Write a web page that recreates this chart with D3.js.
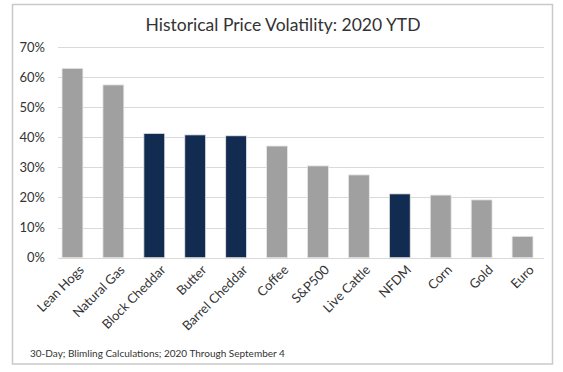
<!DOCTYPE html>
<html>
<head>
<meta charset="utf-8">
<script src="https://cdn.jsdelivr.net/npm/d3@7"></script>
<style>
  body { margin: 0; background: #fff; }
  svg text { font-family: Lato, "Open Sans", sans-serif; fill: #333; }
</style>
</head>
<body>
<svg id="chart" width="563" height="372"></svg>
<script>
// chart data
var categories = ['Lean Hogs', 'Natural Gas', 'Block Cheddar', 'Butter', 'Barrel Cheddar', 'Coffee',
                  'S&P500', 'Live Cattle', 'NFDM', 'Corn', 'Gold', 'Euro'];
var volatility = [0.629, 0.574, 0.413, 0.408, 0.405, 0.371, 0.305, 0.275, 0.212, 0.208, 0.192, 0.071];
var dairy = ['Block Cheddar', 'Butter', 'Barrel Cheddar', 'NFDM'];
var yTicks = [0, 0.1, 0.2, 0.3, 0.4, 0.5, 0.6, 0.7];

var svg = d3.select('#chart');

// frame
svg.append('rect')
	.attr('x', 12.5).attr('y', 4.5)
	.attr('width', 540).attr('height', 359.5)
	.attr('fill', 'none').attr('stroke', '#c9c9c9').attr('stroke-width', 1.5);

var x = d3.scaleBand().domain(categories)
	.range([52, 543]).paddingInner(0.49).paddingOuter(0.245);
var y = d3.scaleLinear().domain([0, 0.7]).range([257.7, 47]);

// gridlines
svg.append('g').selectAll('line').data(yTicks).enter().append('line')
	.attr('x1', 58).attr('x2', 544)
	.attr('y1', function(d) { return Math.round(y(d)) + 0.5; })
	.attr('y2', function(d) { return Math.round(y(d)) + 0.5; })
	.attr('stroke', '#d9d9d9').attr('stroke-width', 1);

// y labels
var yAxis = d3.axisLeft(y).tickValues(yTicks).tickFormat(d3.format('.0%')).tickSize(0).tickPadding(0);
var gy = svg.append('g').attr('transform', 'translate(45,0)').call(yAxis);
gy.select('.domain').remove();
gy.selectAll('text').attr('font-size', 13).style('fill', '#333');

// bars
svg.append('g').selectAll('rect').data(categories).enter().append('rect')
	.attr('x', function(d) { return x(d); })
	.attr('width', x.bandwidth())
	.attr('y', function(d, i) { return y(volatility[i]); })
	.attr('height', function(d, i) { return y(0) - y(volatility[i]); })
	.attr('fill', function(d) { return dairy.indexOf(d) >= 0 ? '#112b51' : '#a0a0a0'; })
	.attr('stroke', '#e6e6e6').attr('stroke-width', 0.8);

// x labels
var xAxis = d3.axisBottom(x).tickSize(0).tickPadding(0);
var gx = svg.append('g').attr('transform', 'translate(3,267)').call(xAxis);
gx.select('.domain').remove();
gx.selectAll('text')
	.attr('font-size', 13)
	.attr('text-anchor', 'end')
	.attr('dy', '0.7em')
	.attr('dx', '0.3em')
	.attr('transform', 'rotate(-45)')
	.style('fill', '#333');

// title
svg.append('text')
	.attr('x', 283).attr('y', 31)
	.attr('text-anchor', 'middle')
	.attr('font-size', 17.5)
	.text('Historical Price Volatility: 2020 YTD');

// footnote
svg.append('text')
	.attr('x', 30).attr('y', 357)
	.attr('font-size', 10)
	.text('30-Day; Blimling Calculations; 2020 Through September 4');
</script>
</body>
</html>
